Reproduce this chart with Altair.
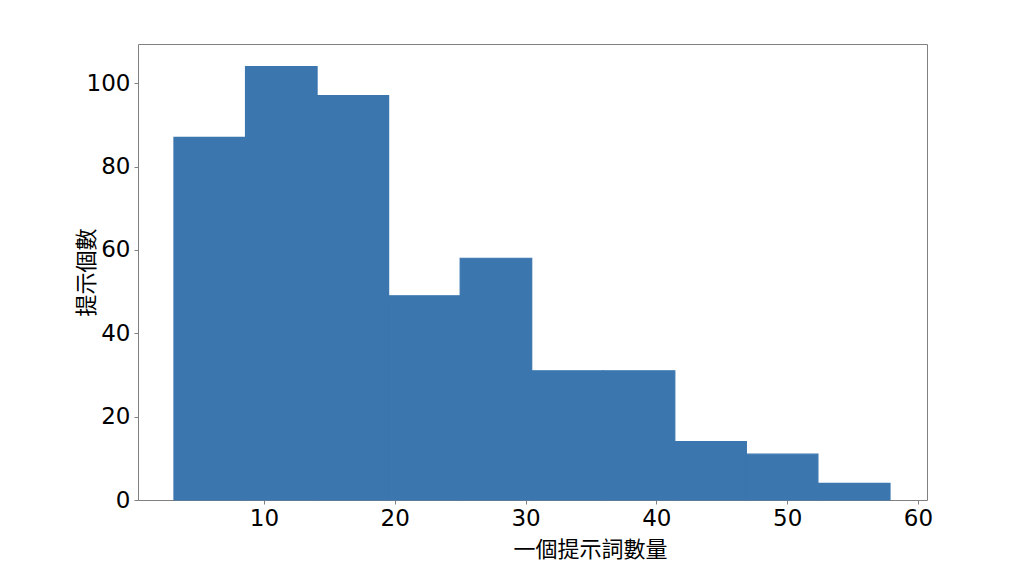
import altair as alt
import pandas as pd

# Histogram bins (edges) and counts
bin_starts = [3.12, 8.59, 14.06, 19.53, 25.0, 30.47, 35.94, 41.41, 46.88, 52.35]
bin_ends = [8.59, 14.06, 19.53, 25.0, 30.47, 35.94, 41.41, 46.88, 52.35, 57.86]
counts = [87, 104, 97, 49, 58, 31, 31, 14, 11, 4]

x_ticks = [10, 20, 30, 40, 50, 60]
y_ticks = [0, 20, 40, 60, 80, 100]

df = pd.DataFrame({"start": bin_starts, "end": bin_ends, "count": counts})

bars = alt.Chart(df).mark_rect(
    color="#3b76af", stroke="#3b76af", strokeWidth=1.2
).encode(
    x=alt.X(
        "start:Q",
        scale=alt.Scale(domain=[0.37, 60.69], nice=False, zero=False),
        axis=alt.Axis(
            values=x_ticks,
            title="一個提示詞數量",
            titleX=452,
            titleY=49,
            titleBaseline="middle",
        ),
    ),
    x2="end:Q",
    y=alt.Y(
        "count:Q",
        scale=alt.Scale(domain=[0, 109.4], nice=False),
        axis=alt.Axis(
            values=y_ticks,
            title="提示個數",
            titleX=-52,
            titleY=228,
            titleBaseline="middle",
            titleAngle=-90,
        ),
    ),
    y2=alt.datum(0),
)

chart = (
    bars.properties(
        width=789,
        height=456,
        autosize=alt.AutoSizeParams(type="none"),
        padding={"left": 130, "top": 36, "right": 89, "bottom": 67},
    )
    .configure_view(stroke="#808080", strokeWidth=1)
    .configure_axis(
        grid=False,
        domain=False,
        tickColor="#808080",
        tickSize=4,
        tickWidth=1,
        labelFont="DejaVu Sans",
        labelFontSize=23,
        labelColor="#000000",
        labelPadding=3,
        titleFont="Noto Sans CJK TC",
        titleFontSize=22,
        titleFontWeight="normal",
        titleColor="#000000",
    )
    .configure_axisY(labelPadding=4)
)

chart.save("out.html", embed_options={"renderer": "svg", "actions": False})
